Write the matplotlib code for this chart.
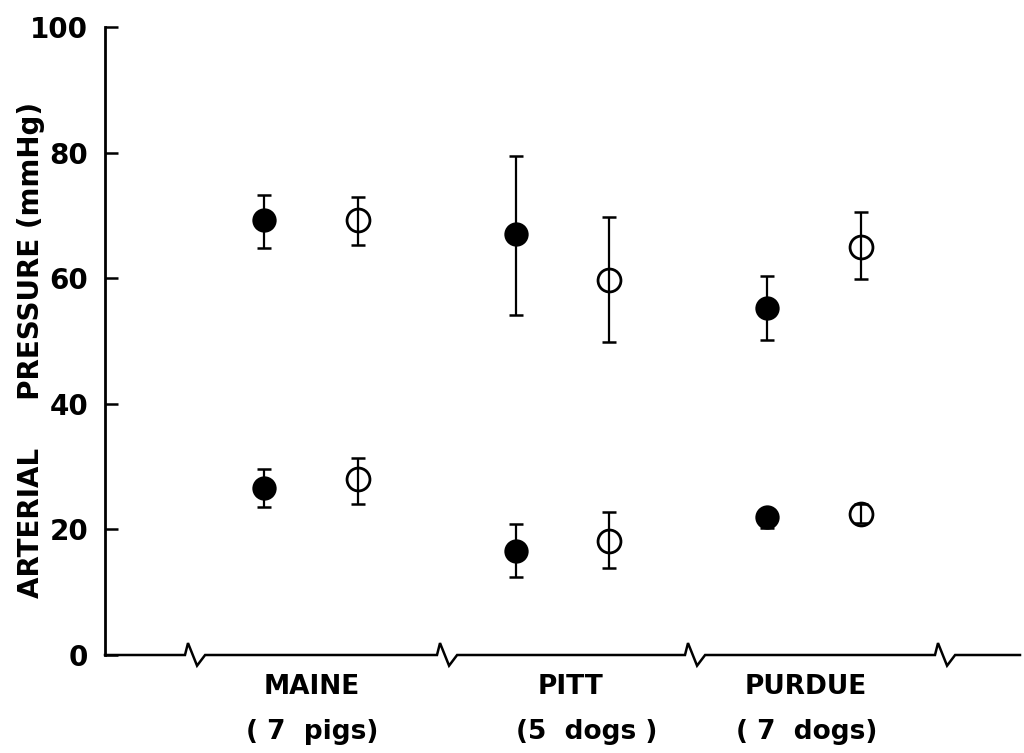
import matplotlib
matplotlib.use("Agg")
import matplotlib.pyplot as plt
import numpy as np

# ---- data ----
groups = ["MAINE", "PITT", "PURDUE"]
subtitles = ["( 7  pigs)", "(5  dogs )", "( 7  dogs)"]

upper_filled = [69.3, 67.0, 55.2]
upper_filled_hi = [73.2, 79.4, 60.4]
upper_filled_lo = [64.8, 54.2, 50.2]

upper_open = [69.3, 59.7, 65.0]
upper_open_hi = [72.9, 69.7, 70.5]
upper_open_lo = [65.3, 49.8, 59.9]

lower_filled = [26.6, 16.5, 21.9]
lower_filled_hi = [29.6, 20.8, 23.3]
lower_filled_lo = [23.5, 12.5, 20.3]

lower_open = [28.0, 18.1, 22.5]
lower_open_hi = [31.4, 22.7, 24.1]
lower_open_lo = [24.1, 13.8, 21.0]

yticks = [0, 20, 40, 60, 80, 100]

plt.rcParams['font.family'] = ['DejaVu Sans']

fig = plt.figure(figsize=(10.24, 7.53), dpi=100)
ax = fig.add_axes([105/1024, 98/753, 915/1024, 628/753])

xc = np.arange(len(groups), dtype=float)
off = 0.185

def draw(xs, m, hi, lo, filled):
    m = np.array(m); hi = np.array(hi); lo = np.array(lo)
    ax.errorbar(xs, m, yerr=[m - lo, hi - m], fmt='none', ecolor='black',
                elinewidth=1.6, capsize=5, capthick=1.8, zorder=2)
    if filled:
        ax.plot(xs, m, 'o', ms=16, mfc='black', mec='black', mew=1.5, ls='none', zorder=3)
    else:
        ax.plot(xs, m, 'o', ms=16.5, mfc='none', mec='black', mew=2.0, ls='none', zorder=3)

draw(xc - off, upper_filled, upper_filled_hi, upper_filled_lo, True)
draw(xc + off, upper_open, upper_open_hi, upper_open_lo, False)
draw(xc - off, lower_filled, lower_filled_hi, lower_filled_lo, True)
draw(xc + off, lower_open, lower_open_hi, lower_open_lo, False)

xl, xr = -0.819, 2.819
ax.set_xlim(xl, xr)
ax.set_ylim(0, 100)

for s in ['top', 'right', 'bottom']:
    ax.spines[s].set_visible(False)
ax.spines['left'].set_linewidth(2.0)

ax.set_yticks(yticks)
ax.set_yticklabels([str(v) for v in yticks], fontsize=20, fontweight='bold')
ax.tick_params(axis='y', direction='in', length=9.5, width=1.8, pad=12)
ax.set_xticks([])

# broken baseline
breaks = [-0.461, 0.541, 1.527, 2.521]
px, py = [xl], [0.0]
for b in breaks:
    px += [b - 0.040, b - 0.028, b + 0.008, b + 0.040]
    py += [0.0, 1.9, -1.7, 0.0]
px.append(xr); py.append(0.0)
ax.plot(px, py, color='black', lw=1.8, clip_on=False, solid_joinstyle='miter')

# group labels
label_x = [312, 571, 806]
sub_x = [312, 587, 807]
for lx, sx, g, s in zip(label_x, sub_x, groups, subtitles):
    fig.text(lx/1024, 1 - 687/753, g, ha='center', va='center', fontsize=19, fontweight='bold')
    fig.text(sx/1024, 1 - 732/753, s, ha='center', va='center', fontsize=19, fontweight='bold')

fig.text(31/1024, 1 - 350/753, "ARTERIAL     PRESSURE (mmHg)", rotation=90,
         ha='center', va='center', fontsize=20, fontweight='bold')

fig.savefig("out.png", dpi=100)
